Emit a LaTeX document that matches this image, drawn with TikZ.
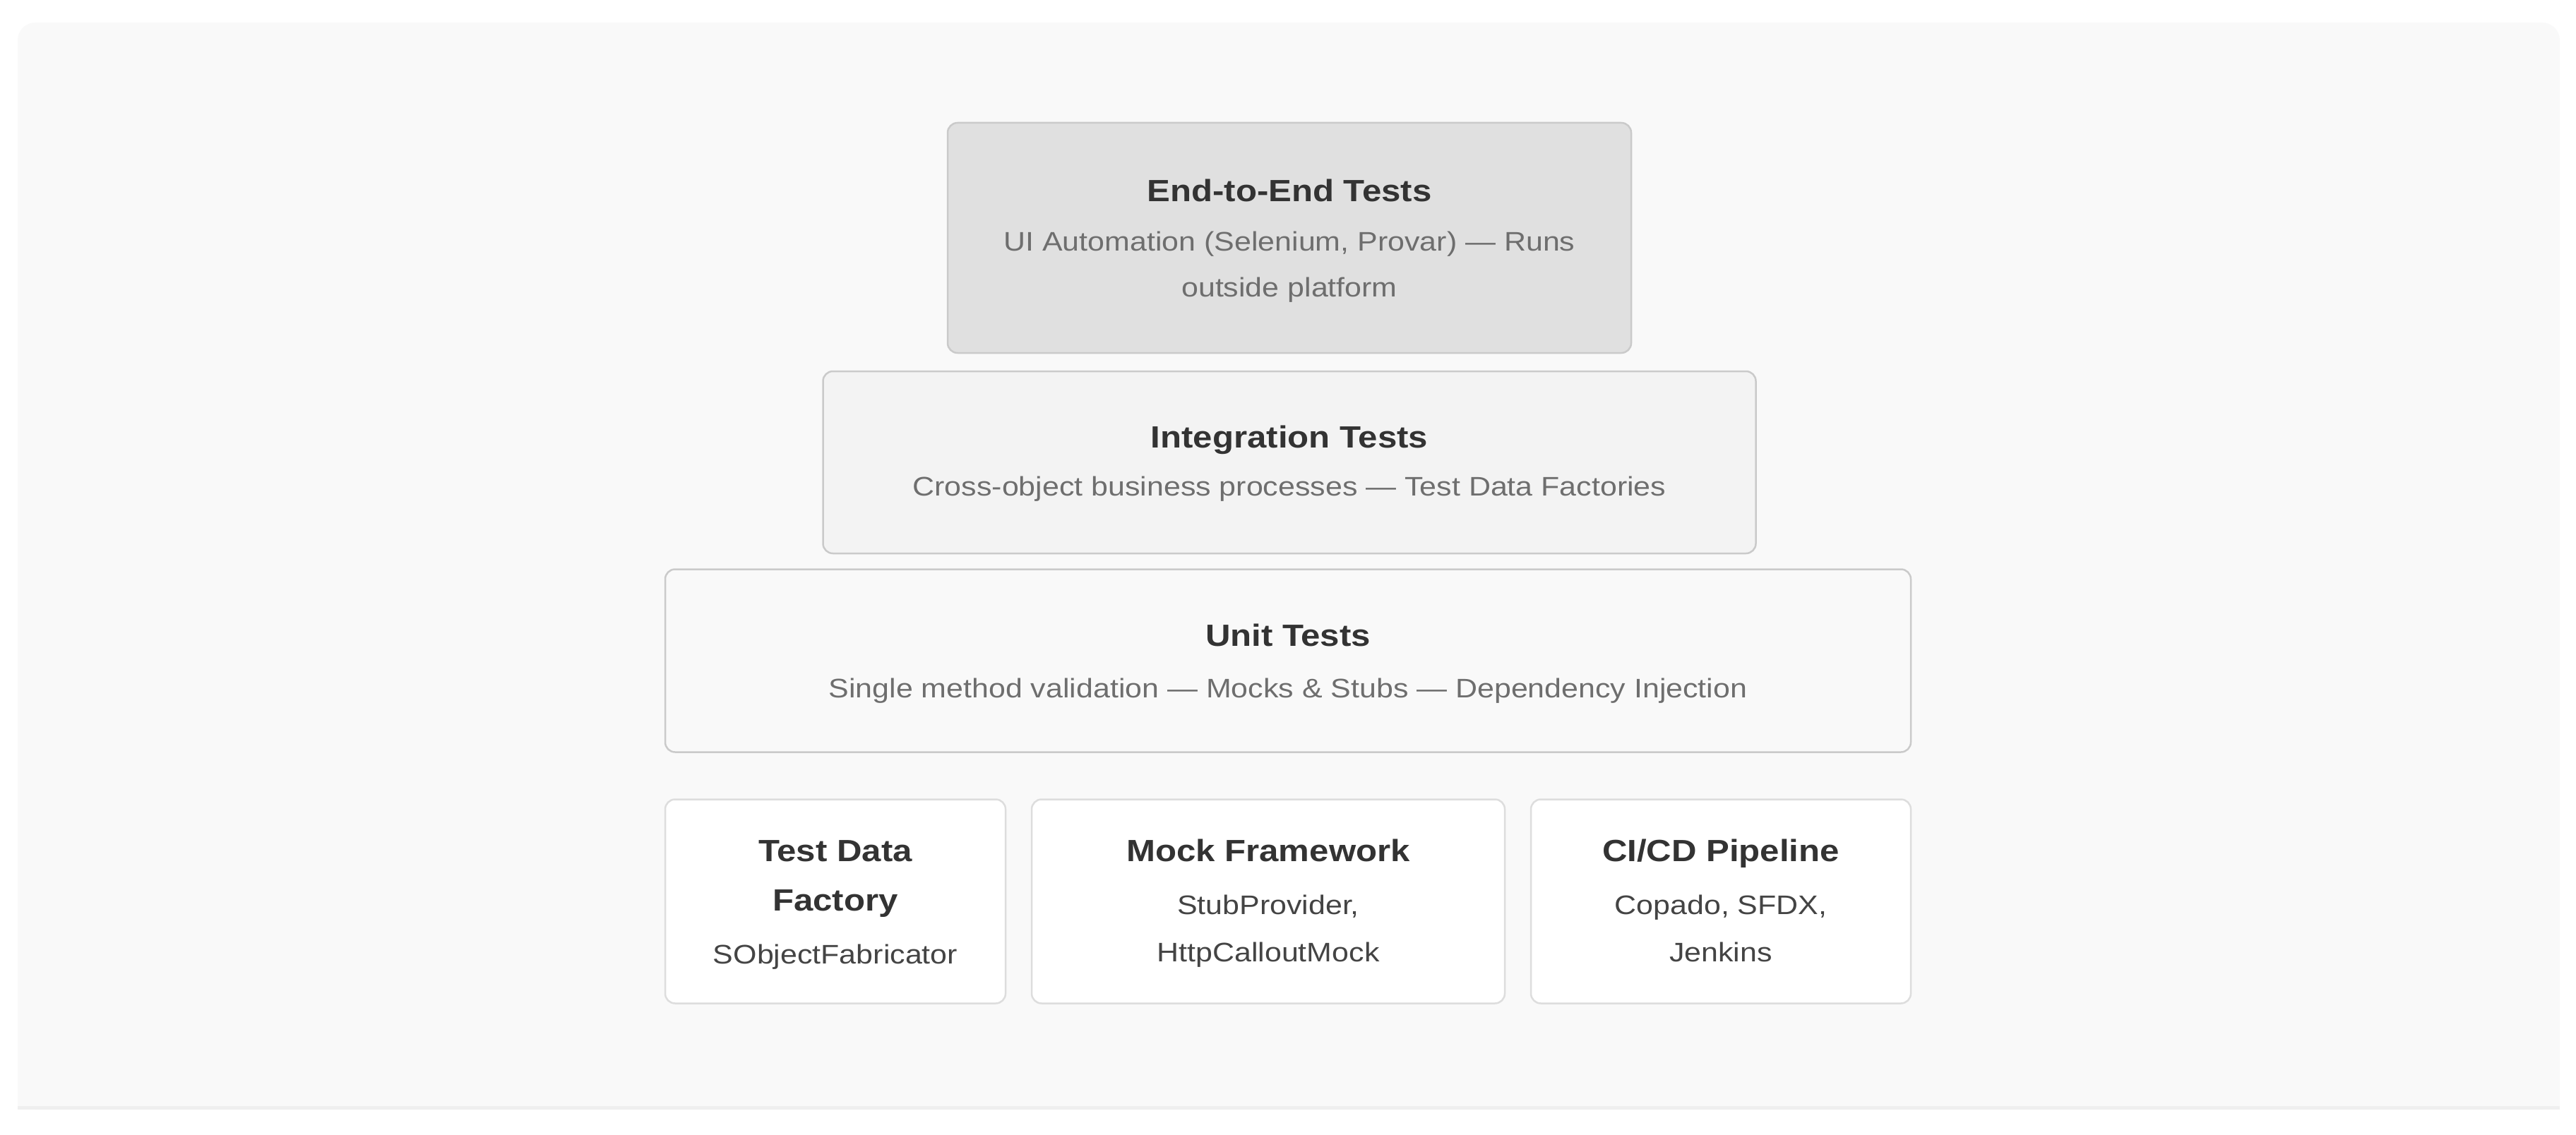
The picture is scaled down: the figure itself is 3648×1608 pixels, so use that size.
\documentclass[tikz,border=0pt]{standalone}
\usepackage{fontspec}
\setmainfont{Liberation Sans}[FakeStretch=1.13]
\definecolor{panelfill}{HTML}{F9F9F9}
\definecolor{panelline}{HTML}{EFEFEF}
\definecolor{e2efill}{HTML}{E0E0E0}
\definecolor{intfill}{HTML}{F3F3F3}
\definecolor{unitfill}{HTML}{F9F9F9}
\definecolor{tierline}{HTML}{CACACA}
\definecolor{cardline}{HTML}{DDDDDD}
\definecolor{titlecol}{HTML}{333333}
\definecolor{subcol}{HTML}{6E6E6E}
\definecolor{bodycol}{HTML}{444444}
\begin{document}
\begin{tikzpicture}[x=1pt,y=-1pt,
  tier/.style={draw=tierline, line width=2.5pt, rounded corners=14pt, inner sep=0pt},
  card/.style={draw=cardline, line width=2.5pt, rounded corners=14pt, fill=white, inner sep=0pt},
  ttl/.style={anchor=base, text=titlecol, font=\fontsize{43.5}{50}\selectfont\bfseries, inner sep=0pt},
  sub/.style={anchor=base, text=subcol, font=\fontsize{38}{46}\selectfont, inner sep=0pt},
  body/.style={anchor=base, text=bodycol, font=\fontsize{38}{46}\selectfont, inner sep=0pt}]
\useasboundingbox (0,0) rectangle (3648,1608);
\fill[white] (0,0) rectangle (3648,1608);
\fill[panelfill, rounded corners=25pt] (25,32) rectangle (3625,1572);
\fill[panelfill] (25,200) rectangle (3625,1572);
\fill[panelline] (25,1567) rectangle (3625,1572);

% pyramid tiers
\node[tier, fill=e2efill, minimum width=968pt, minimum height=326pt] (e2e) at (1826,337) {};
\node[tier, fill=intfill, minimum width=1321pt, minimum height=258pt] (int) at (1826,655) {};
\node[tier, fill=unitfill, minimum width=1764pt, minimum height=259pt] (unit) at (1824,936) {};

\node[ttl] (e2etitle) at (1826,285) {End-to-End Tests};
\node[sub] (e2esub1) at (1826,355) {UI Automation (Selenium, Provar) — Runs};
\node[sub] (e2esub2) at (1826,420) {outside platform};

\node[ttl] (inttitle) at (1826,634) {Integration Tests};
\node[sub] (intsub) at (1826,702) {Cross-object business processes — Test Data Factories};

\node[ttl] (unittitle) at (1824,915) {Unit Tests};
\node[sub] (unitsub) at (1824,988) {Single method validation — Mocks \& Stubs — Dependency Injection};

% bottom cards
\node[card, minimum width=482pt, minimum height=289pt] (tdf) at (1183,1277) {};
\node[card, minimum width=670pt, minimum height=289pt] (mock) at (1796,1277) {};
\node[card, minimum width=538pt, minimum height=289pt] (cicd) at (2437,1277) {};

\node[ttl] (tdft1) at (1183,1220) {Test Data};
\node[ttl] (tdft2) at (1183,1290) {Factory};
\node[body] (tdfb) at (1183,1365) {SObjectFabricator};

\node[ttl] (mockt) at (1796,1220) {Mock Framework};
\node[body] (mockb1) at (1796,1295) {StubProvider,};
\node[body] (mockb2) at (1796,1362) {HttpCalloutMock};

\node[ttl] (cicdt) at (2437,1220) {CI/CD Pipeline};
\node[body] (cicdb1) at (2437,1295) {Copado, SFDX,};
\node[body] (cicdb2) at (2437,1362) {Jenkins};
\end{tikzpicture}
\end{document}
